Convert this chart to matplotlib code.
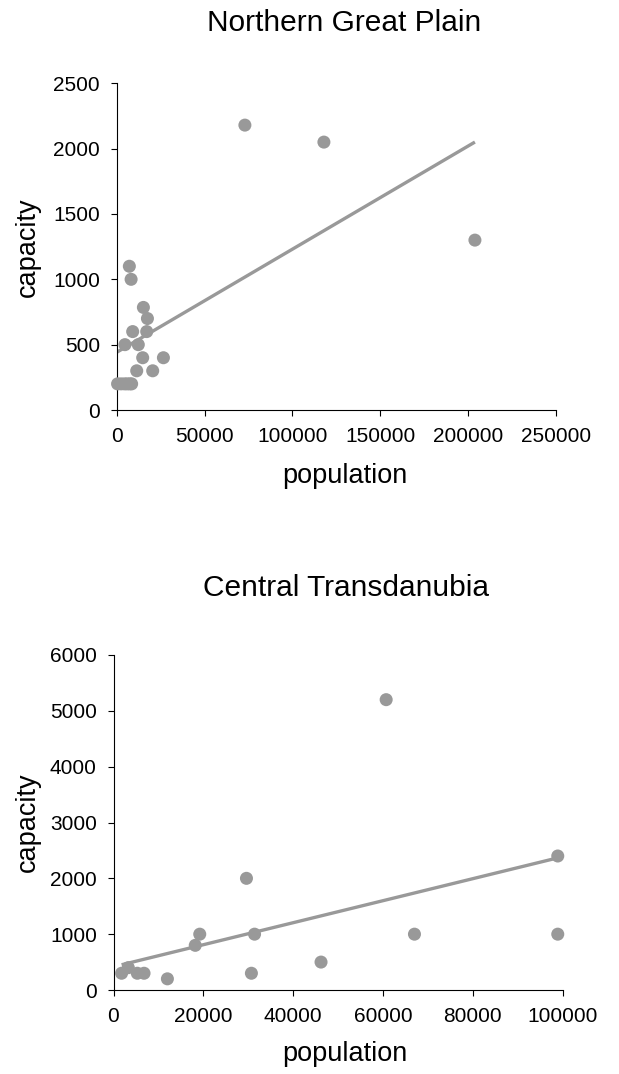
import numpy as np
import matplotlib
matplotlib.use("Agg")
import matplotlib.pyplot as plt

plt.rcParams['font.family'] = ['Liberation Sans', 'DejaVu Sans']

# Northern Great Plain
ngp_pop = [500, 2500, 4500, 6000, 7500, 8500, 4700, 7200, 8200, 9100, 12300, 15200,
           17500, 17100, 14800, 26600, 11400, 20500, 73000, 118000, 204000]
ngp_cap = [200, 200, 200, 200, 200, 200, 500, 1100, 1000, 600, 500, 785,
           700, 600, 400, 400, 300, 300, 2180, 2050, 1300]

# Central Transdanubia
ct_pop = [1800, 3300, 5300, 6800, 12000, 18200, 19200, 29600, 31400, 30700,
          46200, 60700, 67000, 98900, 98900]
ct_cap = [300, 400, 300, 300, 200, 800, 1000, 2000, 1000, 300,
          500, 5200, 1000, 2400, 1000]

W, H = 619, 1074
fig = plt.figure(figsize=(W / 100, H / 100), dpi=100)

GRAY = '#999999'


def make_ax(left, right, top, bottom):
    return fig.add_axes([left / W, 1 - bottom / H, (right - left) / W, (bottom - top) / H])


def style(ax):
    for s in ['top', 'right']:
        ax.spines[s].set_visible(False)
    for s in ['left', 'bottom']:
        ax.spines[s].set_linewidth(0.8)
        ax.spines[s].set_color('black')
    ax.tick_params(direction='out', length=4, width=0.8, labelsize=15)
    ax.tick_params(axis='y', pad=8)
    ax.tick_params(axis='x', pad=8)


def draw(ax, x, y, start_zero=False):
    x = np.asarray(x, float)
    y = np.asarray(y, float)
    ax.scatter(x, y, s=88, color=GRAY, edgecolors='none', zorder=3, clip_on=False)
    b, a = np.polyfit(x, y, 1)
    xs = np.array([0 if start_zero else x.min(), x.max()])
    ax.plot(xs, a + b * xs, color=GRAY, lw=2.4, zorder=2, solid_capstyle='butt')


ax1 = make_ax(116.7, 555.7, 83.3, 410)
style(ax1)
draw(ax1, ngp_pop, ngp_cap, start_zero=True)
ax1.set_xlim(0, 250000)
ax1.set_ylim(0, 2500)
ax1.set_xticks(np.arange(0, 250001, 50000))
ax1.set_yticks(np.arange(0, 2501, 500))

ax2 = make_ax(113.5, 562.7, 655, 990)
style(ax2)
draw(ax2, ct_pop, ct_cap)
ax2.set_xlim(0, 100000)
ax2.set_ylim(0, 6000)
ax2.set_xticks(np.arange(0, 100001, 20000))
ax2.set_yticks(np.arange(0, 6001, 1000))

fig.text(344 / W, 1 - 23 / H, 'Northern Great Plain', fontsize=21.5, ha='center', va='center')
fig.text(346 / W, 1 - 588 / H, 'Central Transdanubia', fontsize=21.5, ha='center', va='center')
fig.text(345 / W, 1 - 476 / H, 'population', fontsize=19.5, ha='center', va='center')
fig.text(345 / W, 1 - 1054 / H, 'population', fontsize=19.5, ha='center', va='center')
fig.text(28 / W, 1 - 247 / H, 'capacity', fontsize=19.5, ha='center', va='center', rotation=90)
fig.text(28 / W, 1 - 822 / H, 'capacity', fontsize=19.5, ha='center', va='center', rotation=90)

fig.savefig('out.png', dpi=100)
